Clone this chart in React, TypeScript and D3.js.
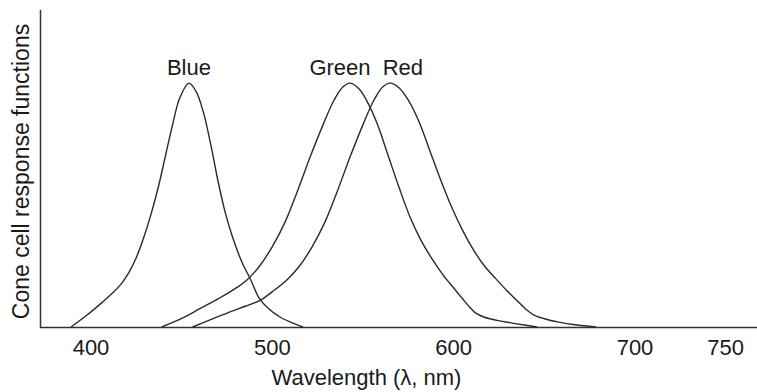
import React from "react";
import * as d3 from "d3";

const xTicks = [400, 500, 600, 700, 750];

const blueWl = [389, 398, 406, 412, 417, 421, 425, 429, 433, 437, 441, 445, 449, 454, 458, 462, 466, 470, 474, 478, 483, 488, 493, 498, 504, 510, 517];
const blueVal = [0, 0.05, 0.1, 0.14, 0.18, 0.225, 0.285, 0.365, 0.46, 0.57, 0.7, 0.83, 0.94, 1.0, 0.965, 0.88, 0.75, 0.6, 0.47, 0.37, 0.27, 0.195, 0.115, 0.075, 0.042, 0.02, 0];

const greenWl = [439, 450, 460, 470, 478, 486, 493, 500, 507, 514, 521, 528, 534, 539, 543, 548, 553, 558, 564, 570, 576, 582, 588, 594, 600, 605, 609, 612, 617, 624, 634, 646];
const greenVal = [0, 0.035, 0.075, 0.115, 0.15, 0.193, 0.25, 0.33, 0.43, 0.56, 0.7, 0.83, 0.93, 0.985, 1.0, 0.975, 0.915, 0.83, 0.7, 0.57, 0.45, 0.355, 0.28, 0.215, 0.16, 0.115, 0.08, 0.058, 0.04, 0.027, 0.014, 0];

const redWl = [456, 466, 476, 485, 493, 500, 508, 515, 522, 529, 536, 543, 550, 556, 561, 565, 570, 575, 581, 587, 593, 599, 605, 611, 617, 623, 629, 635, 640, 644, 650, 658, 667, 678.5];
const redVal = [0, 0.03, 0.06, 0.085, 0.108, 0.145, 0.193, 0.25, 0.33, 0.43, 0.56, 0.7, 0.83, 0.93, 0.985, 1.0, 0.98, 0.93, 0.84, 0.72, 0.6, 0.49, 0.395, 0.315, 0.25, 0.2, 0.152, 0.108, 0.072, 0.05, 0.034, 0.02, 0.009, 0];

const seriesNames = ["Blue", "Green", "Red"];
const labelWl = [454, 537.3, 572];

const W = 757;
const H = 392;

export default function App() {
  const x = d3.scaleLinear().domain([400, 700]).range([91, 635]);
  const y = d3.scaleLinear().domain([0, 1.3]).range([327, 10]);
  const line = d3
    .line<[number, number]>()
    .x((d) => x(d[0]))
    .y((d) => y(d[1]))
    .curve(d3.curveCatmullRom.alpha(0.5));

  const series = [
    blueWl.map((w, i) => [w, blueVal[i]] as [number, number]),
    greenWl.map((w, i) => [w, greenVal[i]] as [number, number]),
    redWl.map((w, i) => [w, redVal[i]] as [number, number]),
  ];

  const font = "'Liberation Sans', Arial, Helvetica, sans-serif";
  const ink = "#1a1a1a";

  return (
    <svg
      width={W}
      height={H}
      style={{ position: "absolute", left: 0, top: 0, background: "#fff" }}
      fontFamily={font}
    >
      <rect x={0} y={0} width={W} height={H} fill="#fff" />
      <line x1={40.5} y1={10} x2={40.5} y2={327.5} stroke="#333" strokeWidth={1.5} />
      <line x1={40} y1={327.5} x2={W} y2={327.5} stroke="#333" strokeWidth={1.5} />
      {xTicks.map((t) => (
        <text key={t} x={x(t)} y={355} fontSize={22} textAnchor="middle" fill={ink}>
          {t}
        </text>
      ))}
      <text x={366.5} y={385} fontSize={22} textAnchor="middle" fill={ink}>
        Wavelength (λ, nm)
      </text>
      <text
        transform="translate(29,171.5) rotate(-90)"
        fontSize={23}
        textAnchor="middle"
        fill={ink}
      >
        Cone cell response functions
      </text>
      {series.map((s, i) => (
        <path key={i} d={line(s) || ""} fill="none" stroke="#2a2a2a" strokeWidth={1.4} />
      ))}
      {seriesNames.map((n, i) => (
        <text key={n} x={x(labelWl[i])} y={75} fontSize={22} textAnchor="middle" fill={ink}>
          {n}
        </text>
      ))}
    </svg>
  );
}
